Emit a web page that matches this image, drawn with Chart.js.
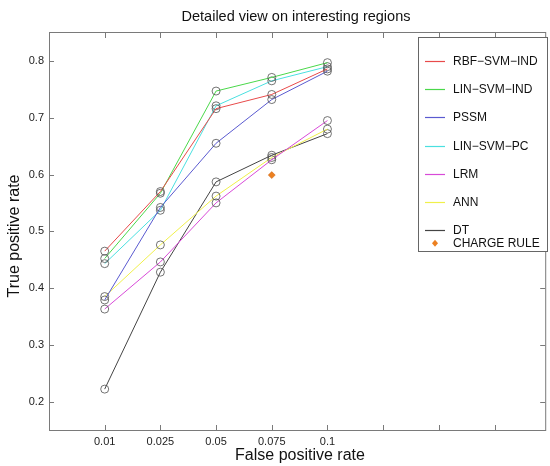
<!DOCTYPE html>
<html>
<head>
<meta charset="utf-8">
<script src="https://cdn.jsdelivr.net/npm/chart.js@4.4.0/dist/chart.umd.min.js"></script>
<style>
html, body { margin: 0; padding: 0; background: #fff; }
canvas { display: block; }
</style>
</head>
<body>
<canvas id="myChart" width="550" height="466"></canvas>
<script>
// x positions 1..5 carry the false positive rate labels
const fprLabels = ['0.01', '0.025', '0.05', '0.075', '0.1'];
const xTicks = [1, 2, 3, 4, 5, 6, 7, 8];
const yTicks = [0.2, 0.3, 0.4, 0.5, 0.6, 0.7, 0.8];

const rbfSvmInd = [0.465, 0.570, 0.716, 0.741, 0.786];
const linSvmInd = [0.452, 0.567, 0.747, 0.771, 0.797];
const pssm      = [0.379, 0.542, 0.655, 0.732, 0.782];
const linSvmPc  = [0.443, 0.537, 0.721, 0.765, 0.790];
const lrm       = [0.363, 0.446, 0.550, 0.626, 0.695];
const ann       = [0.385, 0.476, 0.562, 0.630, 0.680];
const dt        = [0.222, 0.428, 0.587, 0.634, 0.672];

const chargeRuleX = [4];
const chargeRuleY = [0.599];

const seriesNames  = ['RBF−SVM−IND', 'LIN−SVM−IND', 'PSSM', 'LIN−SVM−PC', 'LRM', 'ANN', 'DT'];
const seriesValues = [rbfSvmInd, linSvmInd, pssm, linSvmPc, lrm, ann, dt];
const seriesColors = ['#e84a4a', '#4ad84a', '#5a5ad0', '#4ae0e0', '#d84ad8', '#f0f04a', '#444444'];
const chargeColor = '#ec8020';

const FONT = "'Liberation Sans', Arial, Helvetica, sans-serif";
const FRAME = '#7a7a7a';

const datasets = seriesNames.map((name, i) => ({
    label: name,
    data: seriesValues[i].map((v, j) => ({ x: j + 1, y: v })),
    borderColor: seriesColors[i],
    borderWidth: 1,
    pointStyle: 'circle',
    pointRadius: 4,
    pointBorderWidth: 0.8,
    pointBorderColor: '#505050',
    pointBackgroundColor: 'rgba(0,0,0,0)',
    showLine: true,
    tension: 0
}));

datasets.push({
    label: 'CHARGE RULE',
    data: chargeRuleX.map((x, i) => ({ x: x, y: chargeRuleY[i] })),
    showLine: false,
    pointStyle: 'rectRot',
    pointRadius: 3.5,
    pointBorderWidth: 0.5,
    pointBorderColor: '#c86010',
    pointBackgroundColor: chargeColor
});

// frame, inward ticks, titles and the boxed legend
const decorPlugin = {
    id: 'decor',
    afterDraw(chart) {
        const ctx = chart.ctx;
        const a = chart.chartArea;
        const xs = chart.scales.x;
        const ys = chart.scales.y;
        ctx.save();
        ctx.strokeStyle = FRAME;
        ctx.lineWidth = 1;
        ctx.strokeRect(a.left + 0.5, a.top + 0.5, a.right - a.left, a.bottom - a.top);
        ctx.beginPath();
        xTicks.forEach(t => {
            const px = Math.round(xs.getPixelForValue(t)) + 0.5;
            ctx.moveTo(px, a.bottom); ctx.lineTo(px, a.bottom - 5);
            ctx.moveTo(px, a.top); ctx.lineTo(px, a.top + 6);
        });
        yTicks.forEach(t => {
            const py = Math.round(ys.getPixelForValue(t)) + 0.5;
            ctx.moveTo(a.left, py); ctx.lineTo(a.left + 5, py);
            ctx.moveTo(a.right, py); ctx.lineTo(a.right - 5, py);
        });
        ctx.stroke();

        ctx.fillStyle = '#111';
        ctx.textAlign = 'center';
        ctx.textBaseline = 'middle';
        ctx.font = '14.5px ' + FONT;
        ctx.fillText('Detailed view on interesting regions', 296, 17);
        ctx.font = '16px ' + FONT;
        ctx.fillText('False positive rate', 300, 456);
        ctx.save();
        ctx.translate(15, 236);
        ctx.rotate(-Math.PI / 2);
        ctx.fillText('True positive rate', 0, 0);
        ctx.restore();

        // legend
        ctx.fillStyle = '#fff';
        ctx.fillRect(418, 37, 130, 215);
        ctx.strokeStyle = '#666';
        ctx.strokeRect(418.5, 37.5, 129, 214);
        const rows = [60.7, 89, 117.3, 145.7, 174, 202.3, 230, 243.3];
        ctx.font = '12px ' + FONT;
        ctx.textAlign = 'left';
        const labels = seriesNames.concat(['CHARGE RULE']);
        labels.forEach((label, i) => {
            const y = rows[i];
            if (i < seriesColors.length) {
                ctx.strokeStyle = seriesColors[i];
                ctx.lineWidth = 1.2;
                ctx.beginPath();
                ctx.moveTo(425, Math.round(y) + 0.5);
                ctx.lineTo(445, Math.round(y) + 0.5);
                ctx.stroke();
            } else {
                ctx.fillStyle = chargeColor;
                ctx.beginPath();
                ctx.moveTo(435, y - 3.5); ctx.lineTo(438, y);
                ctx.lineTo(435, y + 3.5); ctx.lineTo(432, y);
                ctx.closePath();
                ctx.fill();
            }
            ctx.fillStyle = '#111';
            ctx.fillText(label, 453, y + 0.5);
        });
        ctx.restore();
    }
};

let myChart;

function initChart() {
    const ctx = document.getElementById('myChart').getContext('2d');
    myChart = new Chart(ctx, {
        type: 'scatter',
        data: { datasets: datasets },
        options: {
            responsive: false,
            animation: false,
            layout: { padding: { top: 32, right: 1, left: 0, bottom: 0 } },
            plugins: {
                legend: { display: false },
                title: { display: false },
                tooltip: { enabled: false }
            },
            scales: {
                x: {
                    type: 'linear',
                    min: 0,
                    max: 8.91,
                    afterFit: s => { s.height = 36; },
                    afterBuildTicks: s => { s.ticks = xTicks.map(v => ({ value: v })); },
                    grid: { display: false, drawTicks: false },
                    border: { display: false },
                    ticks: {
                        padding: 5,
                        color: '#222',
                        font: { family: FONT, size: 11 },
                        maxRotation: 0,
                        autoSkip: false,
                        callback: v => fprLabels[v - 1] || ''
                    }
                },
                y: {
                    type: 'linear',
                    min: 0.15,
                    max: 0.851,
                    afterFit: s => { s.width = 49; },
                    afterBuildTicks: s => { s.ticks = yTicks.map(v => ({ value: v })); },
                    grid: { display: false, drawTicks: false },
                    border: { display: false },
                    ticks: {
                        padding: 5,
                        color: '#222',
                        font: { family: FONT, size: 11 },
                        callback: v => v.toFixed(1)
                    }
                }
            }
        },
        plugins: [decorPlugin]
    });
}

document.addEventListener('DOMContentLoaded', () => {
    initChart();
});
</script>
</body>
</html>
